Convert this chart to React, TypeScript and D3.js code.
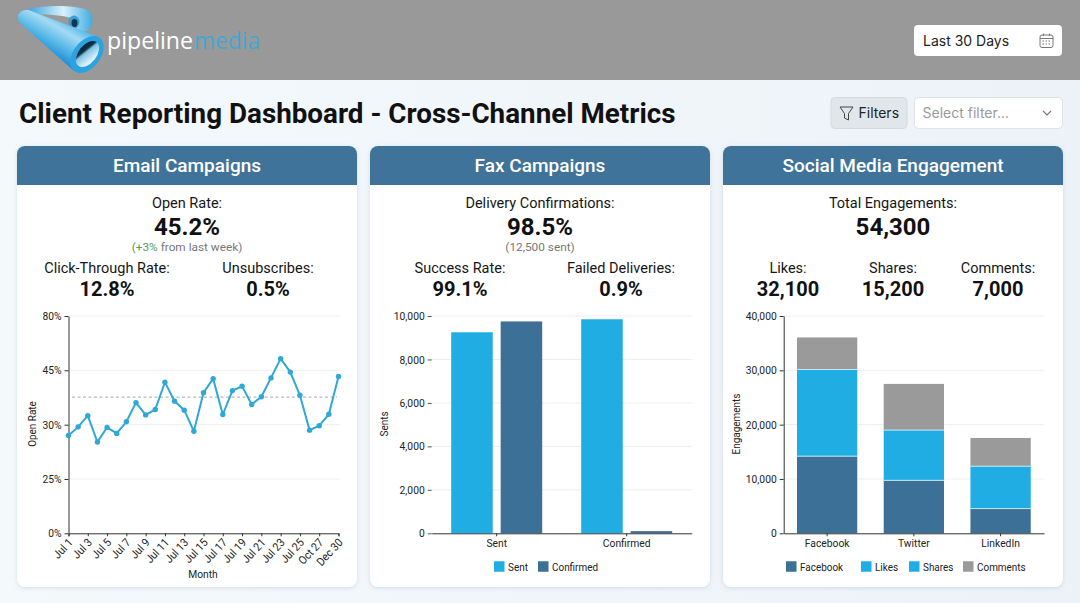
import React, { useEffect, useRef } from 'react';
import * as d3 from 'd3';

const FONT = 'Roboto, sans-serif';
const BLUE = '#1fade3';
const DARK = '#3d7096';
const GRAY = '#9a9a9a';
const INK = '#161616';

// email card
const dayLabels = ['Jul 1', 'Jul 2', 'Jul 3', 'Jul 4', 'Jul 5', 'Jul 6', 'Jul 7', 'Jul 8', 'Jul 9', 'Jul 10', 'Jul 11', 'Jul 12', 'Jul 13', 'Jul 14', 'Jul 15', 'Jul 16', 'Jul 17', 'Jul 18', 'Jul 19', 'Jul 20', 'Jul 21', 'Jul 22', 'Jul 23', 'Jul 24', 'Jul 25', 'Oct 26', 'Oct 27', 'Dec 29', 'Dec 30'];
const openRates = [29.0, 29.8, 32.5, 28.4, 29.75, 29.2, 30.8, 36.1, 32.7, 34.2, 41.7, 36.5, 34.0, 29.4, 38.8, 42.7, 32.8, 39.4, 40.6, 35.6, 37.7, 42.9, 52.5, 44.5, 38.1, 29.5, 29.9, 32.9, 43.3];
const openRateTicks = [0, 25, 30, 45, 80];
const openRateAvg = 37.6;

// fax card
const faxCategories = ['Sent', 'Confirmed'];
const faxKeys = ['Sent', 'Confirmed'];
const faxSent = [9250, 9850];
const faxConfirmed = [9750, 100];
const faxTicks = [0, 2000, 4000, 6000, 8000, 10000];

// social card
const socialPlatforms = ['Facebook', 'Twitter', 'LinkedIn'];
const socialKeys = ['Facebook', 'Likes', 'Shares', 'Comments'];
const socialBase = [14200, 9750, 4550];
const socialLikes = [15950, 9250, 7800];
const socialShares = [0, 0, 0];
const socialComments = [5900, 8500, 5200];
const socialTicks = [0, 10000, 20000, 30000, 40000];

type G = d3.Selection<SVGGElement, unknown, null, undefined>;

// chart text in the reference is a bit narrower than plain Roboto
function narrow(sel: d3.Selection<any, any, any, any>, ratio = 0.92) {
  sel.each(function () {
    const node = this as SVGTextElement;
    node.setAttribute('textLength', String(node.getComputedTextLength() * ratio));
    node.setAttribute('lengthAdjust', 'spacingAndGlyphs');
  });
}

function styleAxis(axis: G, size = 11.2) {
  const labels = axis.selectAll('text').attr('font-family', FONT).attr('font-size', size).attr('fill', '#222');
  narrow(labels);
  axis.selectAll('line').attr('stroke', '#333');
  axis.select('.domain').attr('stroke', '#333').attr('stroke-width', 1);
}

function grid(g: G, y: d3.ScaleLinear<number, number>, ticks: number[], x0: number, x1: number) {
  g.append('g').selectAll('line').data(ticks.filter(t => t > 0)).join('line')
    .attr('x1', x0).attr('x2', x1)
    .attr('y1', d => y(d)).attr('y2', d => y(d))
    .attr('stroke', '#eceef0').attr('stroke-width', 1);
}

function yTitle(g: G, text: string, x: number, y: number) {
  const t = g.append('text').attr('transform', `translate(${x},${y}) rotate(-90)`)
    .attr('text-anchor', 'middle').attr('font-family', FONT).attr('font-size', 10.8).attr('fill', '#222').text(text);
  narrow(t);
}

function legend(g: G, items: { label: string; color: string; x: number }[], y: number) {
  const it = g.append('g').selectAll('g').data(items).join('g').attr('transform', d => `translate(${d.x},${y})`);
  it.append('rect').attr('width', 10.5).attr('height', 10.5).attr('y', -5.25).attr('fill', d => d.color);
  const labels = it.append('text').attr('x', 14).attr('y', 4).attr('font-family', FONT).attr('font-size', 10.8).attr('fill', '#222').text(d => d.label);
  narrow(labels);
}

function drawEmail(g: G) {
  const x = d3.scalePoint<string>().domain(dayLabels).range([68.5, 338.5]);
  // the axis in the picture spaces its ticks evenly
  const y = d3.scaleLinear().domain(openRateTicks).range([533.3, 479, 424.7, 370.3, 316]);
  grid(g, y, openRateTicks, 68.5, 340);

  const shown = dayLabels.filter((_, i) => i % 2 === 0);
  const xAxis = g.append('g').attr('transform', 'translate(0,533.3)')
    .call(d3.axisBottom(x).tickValues(shown).tickSizeOuter(0).tickSize(3)) as unknown as G;
  styleAxis(xAxis, 11.4);
  xAxis.selectAll('text').attr('text-anchor', 'end')
    .attr('y', 0).attr('dy', '0.35em').attr('transform', 'translate(1.5,7) rotate(-47)');

  const yAxis = g.append('g').attr('transform', 'translate(68.5,0)')
    .call(d3.axisLeft(y).tickValues(openRateTicks).tickFormat(d => `${d}%`).tickSize(4).tickSizeOuter(0)) as unknown as G;
  styleAxis(yAxis);

  g.append('line').attr('x1', 72).attr('x2', 337).attr('y1', y(openRateAvg)).attr('y2', y(openRateAvg))
    .attr('stroke', '#a9a9a9').attr('stroke-width', 1).attr('stroke-dasharray', '3 2.5');

  const line = d3.line<number>().x((_, i) => x(dayLabels[i]) as number).y(d => y(d));
  g.append('path').attr('d', line(openRates)).attr('fill', 'none').attr('stroke', '#2fa8d8').attr('stroke-width', 2);
  g.append('g').selectAll('circle').data(openRates).join('circle')
    .attr('cx', (_, i) => x(dayLabels[i]) as number).attr('cy', d => y(d)).attr('r', 2.7).attr('fill', '#2fa8d8');

  yTitle(g, 'Open Rate', 36, 424);
  const month = g.append('text').attr('x', 203).attr('y', 578).attr('text-anchor', 'middle').attr('font-family', FONT).attr('font-size', 11.2).attr('fill', '#222').text('Month');
  narrow(month);
}

function drawFax(g: G) {
  const x0 = d3.scaleBand<string>().domain(faxCategories).range([431.7, 691.7]).paddingInner(0.3).paddingOuter(0.15);
  const x1 = d3.scaleBand<string>().domain(faxKeys).range([0, x0.bandwidth()]).paddingInner(0.16);
  const y = d3.scaleLinear().domain([0, 10000]).range([533.3, 316]);
  grid(g, y, faxTicks, 431.7, 692);

  const rows = faxCategories.map((c, i) => ({ c, vals: [faxSent[i], faxConfirmed[i]] }));
  g.append('g').selectAll('g').data(rows).join('g').attr('transform', d => `translate(${x0(d.c)},0)`)
    .selectAll('rect').data(d => d.vals).join('rect')
    .attr('x', (_, i) => x1(faxKeys[i]) as number).attr('width', x1.bandwidth())
    .attr('y', d => y(d)).attr('height', d => y(0) - y(d))
    .attr('fill', (_, i) => (i === 0 ? BLUE : DARK));

  const xAxis = g.append('g').attr('transform', 'translate(0,533.3)')
    .call(d3.axisBottom(x0).tickSize(3).tickSizeOuter(0)) as unknown as G;
  styleAxis(xAxis);
  const yAxis = g.append('g').attr('transform', 'translate(431.7,0)')
    .call(d3.axisLeft(y).tickValues(faxTicks).tickFormat(d3.format(',') as never).tickSize(4).tickSizeOuter(0)) as unknown as G;
  styleAxis(yAxis);
  yAxis.select('.domain').attr('stroke', 'none');
  yAxis.selectAll('line').attr('stroke', '#555');

  yTitle(g, 'Sents', 388, 424);
  legend(g, [
    { label: 'Sent', color: BLUE, x: 494 },
    { label: 'Confirmed', color: DARK, x: 538 },
  ], 566.5);
}

function drawSocial(g: G) {
  const x = d3.scaleBand<string>().domain(socialPlatforms).range([783.7, 1044]).paddingInner(0.305).paddingOuter(0.153);
  const y = d3.scaleLinear().domain([0, 40000]).range([533.3, 316]);
  grid(g, y, socialTicks, 783.7, 1044);

  const rows = socialPlatforms.map((p, i) => ({
    platform: p,
    Facebook: socialBase[i],
    Likes: socialLikes[i],
    Shares: socialShares[i],
    Comments: socialComments[i],
  }));
  const colors = d3.scaleOrdinal<string>().domain(socialKeys).range([DARK, BLUE, BLUE, GRAY]);
  const stack = d3.stack<(typeof rows)[number]>().keys(socialKeys)(rows);
  g.append('g').selectAll('g').data(stack).join('g').attr('fill', d => colors(d.key))
    .selectAll('rect').data(d => d.map(s => ({ s, key: d.key }))).join('rect')
    .attr('x', d => x(d.s.data.platform) as number).attr('width', x.bandwidth())
    .attr('y', d => y(d.s[1])).attr('height', d => y(d.s[0]) - y(d.s[1]));

  // pale seams between the stacked blocks
  const seams = stack.slice(0, 2).flatMap(d => d.map(s => ({ v: s[1], p: s.data.platform })));
  g.append('g').selectAll('line').data(seams).join('line')
    .attr('x1', d => x(d.p) as number).attr('x2', d => (x(d.p) as number) + x.bandwidth())
    .attr('y1', d => y(d.v)).attr('y2', d => y(d.v)).attr('stroke', '#c4e8f6').attr('stroke-width', 1);

  const xAxis = g.append('g').attr('transform', 'translate(0,533.3)')
    .call(d3.axisBottom(x).tickSize(3).tickSizeOuter(0)) as unknown as G;
  styleAxis(xAxis);
  const yAxis = g.append('g').attr('transform', 'translate(783.7,0)')
    .call(d3.axisLeft(y).tickValues(socialTicks).tickFormat(d3.format(',') as never).tickSize(4).tickSizeOuter(0)) as unknown as G;
  styleAxis(yAxis);

  yTitle(g, 'Engagements', 740, 424);
  legend(g, [
    { label: 'Facebook', color: DARK, x: 786 },
    { label: 'Likes', color: BLUE, x: 861 },
    { label: 'Shares', color: BLUE, x: 909 },
    { label: 'Comments', color: GRAY, x: 963 },
  ], 566.5);
}

const Label = ({ x, y, size = 14.5, weight = 400, fill = INK, children }: any) => (
  <text x={x} y={y} textAnchor="middle" fontFamily={FONT} fontSize={size} fontWeight={weight} fill={fill}>{children}</text>
);

const Card = ({ x, title }: { x: number; title: string }) => (
  <g>
    <rect x={x} y={146} width={340} height={441} rx={8} fill="#fff" filter="url(#cardShadow)" />
    <path d={`M${x},185 V154 a8,8 0 0 1 8,-8 H${x + 332} a8,8 0 0 1 8,8 V185 Z`} fill="#3f7399" />
    <Label x={x + 170} y={172} size={19} weight={500} fill="#fff">{title}</Label>
  </g>
);

const Logo = () => (
  <g>
    <defs>
      <linearGradient id="tube" gradientUnits="userSpaceOnUse" x1="62" y1="16" x2="42" y2="50">
        <stop offset="0" stopColor="#4fb4e6" />
        <stop offset="0.3" stopColor="#a4dbf3" />
        <stop offset="0.65" stopColor="#59b9e8" />
        <stop offset="1" stopColor="#1f8fd4" />
      </linearGradient>
      <linearGradient id="loop" x1="0" y1="0" x2="1" y2="0">
        <stop offset="0" stopColor="#39a5de" />
        <stop offset="0.55" stopColor="#d9f1fb" />
        <stop offset="1" stopColor="#3fabe2" />
      </linearGradient>
      <linearGradient id="inner" x1="0" y1="0" x2="1" y2="0.4">
        <stop offset="0" stopColor="#081c2b" />
        <stop offset="0.38" stopColor="#0f3148" />
        <stop offset="0.5" stopColor="#7fc2e2" />
        <stop offset="1" stopColor="#e2f5fc" />
      </linearGradient>
    </defs>
    <path d="M28,9 C45,5 72,5 85,9 C94,12 95,24 88,31 L78,31 L72,18 C60,15 45,14 32,14 Z" fill="url(#loop)" />
    <ellipse cx={74} cy={22} rx={5.5} ry={6.5} fill="#3a9fd4" />
    <ellipse cx={74.5} cy={23} rx={3} ry={4} fill="#12384f" />
    <path d="M18,15 C17,19 19,22 21,24 L74,71 L99,37 L30,10.5 C25,9 20,11 18,15 Z" fill="url(#tube)" />
    <ellipse cx={87} cy={54.5} rx={13.5} ry={21} transform="rotate(38 87 54.5)" fill="#2ba3e0" />
    <ellipse cx={87.5} cy={54} rx={9} ry={15} transform="rotate(38 87.5 54)" fill="url(#inner)" />
    <text x={107} y={49} fontFamily="'Open Sans', sans-serif" fontSize={23.8} fontWeight={400} fill="#fff" textLength={86} lengthAdjust="spacingAndGlyphs">pipeline</text>
    <text x={194} y={49} fontFamily="'Open Sans', sans-serif" fontSize={23.8} fontWeight={400} fill="#46a6d3" textLength={66} lengthAdjust="spacingAndGlyphs">media</text>
  </g>
);

export default function App() {
  const emailRef = useRef<SVGGElement>(null);
  const faxRef = useRef<SVGGElement>(null);
  const socialRef = useRef<SVGGElement>(null);

  useEffect(() => {
    const draw: [React.RefObject<SVGGElement | null>, (g: G) => void][] = [
      [emailRef, drawEmail], [faxRef, drawFax], [socialRef, drawSocial],
    ];
    draw.forEach(([ref, fn]) => {
      if (!ref.current) return;
      const g = d3.select(ref.current) as unknown as G;
      g.selectAll('*').remove();
      fn(g);
    });
  }, []);

  return (
    <svg width={1080} height={603} style={{ position: 'absolute', left: 0, top: 0, display: 'block' }}>
      <defs>
        <linearGradient id="page" x1="0" y1="0" x2="1" y2="0">
          <stop offset="0" stopColor="#f4f9fc" />
          <stop offset="1" stopColor="#edf2f8" />
        </linearGradient>
        <filter id="cardShadow" x="-5%" y="-5%" width="110%" height="110%">
          <feDropShadow dx={0} dy={1} stdDeviation={2} floodColor="#7f93a8" floodOpacity={0.28} />
        </filter>
      </defs>
      <rect width={1080} height={603} fill="url(#page)" />
      <rect width={1080} height={80} fill="#999999" />
      <Logo />

      <rect x={914} y={25} width={148} height={31} rx={4} fill="#fff" />
      <text x={923} y={46} fontFamily="Inter, sans-serif" fontSize={14} fill="#222">Last 30 Days</text>
      <g fill="none" stroke="#777" strokeWidth={1}>
        <rect x={1040} y={35} width={13} height={12.5} rx={2} />
        <path d="M1040,38.5 H1053 M1043.5,33.5 V36 M1049.5,33.5 V36" />
        <path d="M1042.5,41 H1050.5 M1042.5,44 H1050.5" strokeDasharray="1.5 1.5" />
      </g>

      <text x={19} y={122.5} fontFamily={FONT} fontSize={27.8} fontWeight={700} fill="#111">Client Reporting Dashboard - Cross-Channel Metrics</text>

      <rect x={831} y={97.5} width={76} height={31} rx={4} fill="#e1e6eb" stroke="#d5dade" />
      <path d="M840,107 H853 L848.5,113.5 V120 L844.5,118 V113.5 Z" fill="none" stroke="#444" strokeWidth={1} />
      <text x={858.5} y={118} fontFamily="Inter, sans-serif" fontSize={14} fill="#222">Filters</text>
      <rect x={914.5} y={97.5} width={148} height={31} rx={4} fill="#fff" stroke="#dfe3e8" />
      <text x={922.5} y={118} fontFamily="Inter, sans-serif" fontSize={14} fill="#9a9a9a">Select filter...</text>
      <path d="M1043,111 L1047,115 L1051,111" fill="none" stroke="#777" strokeWidth={1.2} />

      <Card x={17} title="Email Campaigns" />
      <Card x={370} title="Fax Campaigns" />
      <Card x={723} title="Social Media Engagement" />

      <Label x={187} y={207.5}>Open Rate:</Label>
      <Label x={187} y={235} size={24} weight={700} fill="#111">45.2%</Label>
      <text x={187} y={251} textAnchor="middle" fontFamily={FONT} fontSize={11.8} fill="#777">
        <tspan fill="#4f9d5c">(+3%</tspan> from last week)
      </text>
      <Label x={107} y={273}>Click-Through Rate:</Label>
      <Label x={107} y={296} size={20} weight={700} fill="#111">12.8%</Label>
      <Label x={268} y={273}>Unsubscribes:</Label>
      <Label x={268} y={296} size={20} weight={700} fill="#111">0.5%</Label>

      <Label x={540} y={207.5}>Delivery Confirmations:</Label>
      <Label x={540} y={235} size={24} weight={700} fill="#111">98.5%</Label>
      <Label x={540} y={251} size={11.8} fill="#777">(12,500 sent)</Label>
      <Label x={460} y={273}>Success Rate:</Label>
      <Label x={460} y={296} size={20} weight={700} fill="#111">99.1%</Label>
      <Label x={621} y={273}>Failed Deliveries:</Label>
      <Label x={621} y={296} size={20} weight={700} fill="#111">0.9%</Label>

      <Label x={893} y={207.5}>Total Engagements:</Label>
      <Label x={893} y={235} size={24} weight={700} fill="#111">54,300</Label>
      <Label x={788} y={273}>Likes:</Label>
      <Label x={788} y={296} size={20} weight={700} fill="#111">32,100</Label>
      <Label x={893} y={273}>Shares:</Label>
      <Label x={893} y={296} size={20} weight={700} fill="#111">15,200</Label>
      <Label x={998} y={273}>Comments:</Label>
      <Label x={998} y={296} size={20} weight={700} fill="#111">7,000</Label>

      <g ref={emailRef} />
      <g ref={faxRef} />
      <g ref={socialRef} />
    </svg>
  );
}
